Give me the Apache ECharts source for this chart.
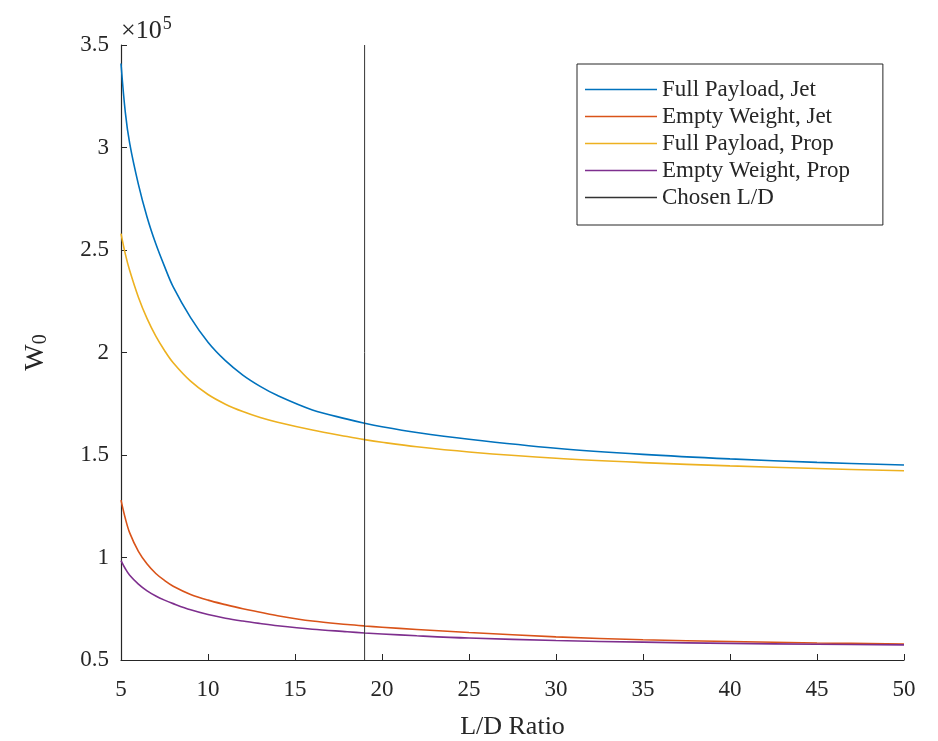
<!DOCTYPE html>
<html>
<head>
<meta charset="utf-8">
<title>W0 vs L/D Ratio</title>
<script src="https://cdn.jsdelivr.net/npm/echarts@6/dist/echarts.min.js"></script>
<style>
  html, body { margin: 0; padding: 0; background: #fff; }
  #chart { width: 938px; height: 741px; }
</style>
</head>
<body>
<div id="chart"></div>
<script>
// L/D ratio samples (x axis)
const ldRatio = [5, 5.25, 5.5, 6, 6.5, 7, 7.5, 8, 9, 10, 11, 12, 13, 14, 16, 18, 19, 20, 22, 25, 30, 35, 40, 45, 50];

// W0 values (lb)
const fullPayloadJet = [341000, 317000, 302000, 282000, 266000, 253000, 242000, 232000, 217000, 205000, 196000, 189000, 183500, 179000, 172000, 167500, 165500, 163800, 161000, 157700, 153300, 150300, 148100, 146400, 145100];
const emptyWeightJet = [128000, 119000, 112000, 103000, 96800, 92200, 88800, 86000, 82000, 79200, 77000, 75000, 73300, 71600, 69000, 67300, 66600, 66000, 64900, 63400, 61300, 59900, 59000, 58300, 57800];
const fullPayloadProp = [258000, 248000, 240000, 227000, 216500, 208000, 201000, 195000, 186000, 179500, 174800, 171200, 168300, 166000, 162200, 159000, 157500, 156200, 154000, 151500, 148400, 146300, 144700, 143400, 142300];
const emptyWeightProp = [98500, 94500, 91300, 87000, 83700, 81200, 79200, 77500, 74500, 72200, 70400, 69000, 67800, 66700, 65000, 63800, 63200, 62700, 61800, 60700, 59500, 58700, 58100, 57700, 57400];

// chosen design point
const chosenLD = 19;
const yRange = [50000, 350000];

const seriesNames = ['Full Payload, Jet', 'Empty Weight, Jet', 'Full Payload, Prop', 'Empty Weight, Prop', 'Chosen L/D'];
const seriesColors = ['#0072BD', '#D95319', '#EDB120', '#7E2F8E', '#333333'];

const serif = '"Liberation Serif", "DejaVu Serif", serif';
const chart = echarts.init(document.getElementById('chart'));

function pairs(ys) {
  return ldRatio.map((x, i) => [x, ys[i]]);
}

function curve(name, ys, color) {
  return {
    name: name,
    type: 'line',
    smooth: 0.35,
    symbol: 'none',
    data: pairs(ys),
    lineStyle: { color: color, width: 1.6 },
    itemStyle: { color: color }
  };
}

const option = {
  animation: false,
  backgroundColor: '#fff',
  textStyle: { fontFamily: serif },
  grid: { left: 121, right: 34, top: 45, bottom: 81, outerBoundsMode: 'none' },
  legend: {
    orient: 'vertical',
    left: 577,
    top: 64,
    data: seriesNames,
    icon: 'rect',
    itemWidth: 72,
    itemHeight: 1.5,
    itemGap: 4,
    padding: [14, 33, 16, 8],
    borderColor: '#262626',
    borderWidth: 1,
    backgroundColor: '#fff',
    textStyle: { fontFamily: serif, fontSize: 23, color: '#262626', lineHeight: 22 }
  },
  xAxis: {
    type: 'value',
    min: 5,
    max: 50,
    interval: 5,
    name: 'L/D Ratio',
    nameLocation: 'middle',
    nameGap: 54,
    nameTextStyle: { fontFamily: serif, fontSize: 26, color: '#262626' },
    axisLine: { lineStyle: { color: '#262626', width: 1.2 } },
    axisTick: { inside: true, length: 6, lineStyle: { color: '#262626' } },
    axisLabel: { fontFamily: serif, fontSize: 23, color: '#262626', margin: 18 },
    splitLine: { show: false }
  },
  yAxis: {
    type: 'value',
    min: yRange[0],
    max: yRange[1],
    interval: 50000,
    name: '{w|W}{s|0}',
    nameLocation: 'middle',
    nameRotate: 90,
    nameGap: 70,
    nameTextStyle: {
      rich: {
        w: { fontFamily: serif, fontSize: 28, color: '#262626' },
        s: { fontFamily: serif, fontSize: 20, color: '#262626', verticalAlign: 'bottom', padding: [10, 0, 0, 0] }
      }
    },
    axisLine: { show: true, lineStyle: { color: '#262626', width: 1.2 } },
    axisTick: { show: true, inside: true, length: 6, lineStyle: { color: '#262626' } },
    axisLabel: {
      fontFamily: serif,
      fontSize: 23,
      color: '#262626',
      margin: 12,
      formatter: v => String(+(v / 1e5).toFixed(1))
    },
    splitLine: { show: false }
  },
  graphic: [
    {
      type: 'text',
      left: 121,
      top: 15,
      style: {
        text: '{a|×10}{b|5}',
        rich: {
          a: { fontFamily: serif, fontSize: 26, fill: '#262626' },
          b: { fontFamily: serif, fontSize: 18, fill: '#262626', verticalAlign: 'top', padding: [0, 0, 14, 1] }
        }
      }
    }
  ],
  series: [
    curve(seriesNames[0], fullPayloadJet, seriesColors[0]),
    curve(seriesNames[1], emptyWeightJet, seriesColors[1]),
    curve(seriesNames[2], fullPayloadProp, seriesColors[2]),
    curve(seriesNames[3], emptyWeightProp, seriesColors[3]),
    {
      name: seriesNames[4],
      type: 'line',
      symbol: 'none',
      data: [[chosenLD, yRange[0]], [chosenLD, yRange[1]]],
      lineStyle: { color: seriesColors[4], width: 1 },
      itemStyle: { color: seriesColors[4] }
    }
  ]
};

chart.setOption(option);
</script>
</body>
</html>
